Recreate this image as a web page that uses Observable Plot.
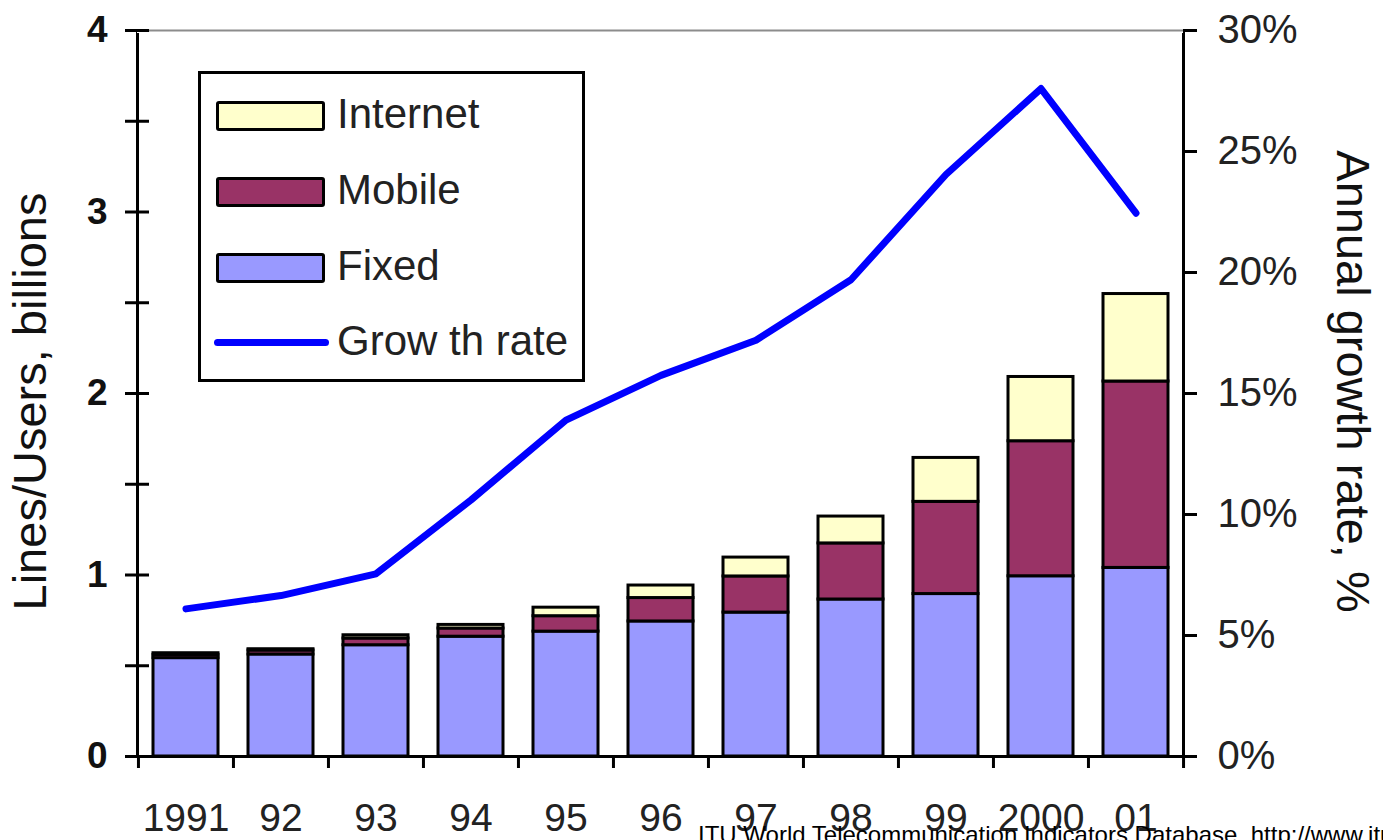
<!DOCTYPE html>
<html><head><meta charset="utf-8">
<script src="https://cdn.jsdelivr.net/npm/d3@7"></script>
<script src="https://cdn.jsdelivr.net/npm/@observablehq/plot@0.6"></script>
<style>
html,body{margin:0;padding:0;background:#fff;overflow:hidden;width:1383px;height:840px;}
#wrap{position:relative;width:1383px;height:840px;overflow:hidden;font-family:"Liberation Sans",Arial,sans-serif;}
#legend{position:absolute;left:198px;top:71px;width:387px;height:311px;border:3px solid #000;box-sizing:border-box;background:#fff;}
.item{position:absolute;left:0;height:0;}
.sw{position:absolute;left:15px;width:109px;height:30px;border:3px solid #000;box-sizing:border-box;border-radius:3px;}
.ln{position:absolute;left:13px;width:115px;height:7px;border-radius:4px;background:#0000ff;}
.lt{position:absolute;left:136px;font-size:42px;line-height:42px;color:#222;white-space:nowrap;}
#caption{position:absolute;left:698px;top:823px;font-size:24px;line-height:24px;color:#000;white-space:nowrap;}
</style></head>
<body><div id="wrap"></div>
<script>
// ---- data ----
const years = ["1991","92","93","94","95","96","97","98","99","2000","01"];
const fixed    = [0.542, 0.562, 0.613, 0.660, 0.688, 0.744, 0.793, 0.865, 0.895, 0.993, 1.039];
const mobile   = [0.018, 0.022, 0.037, 0.045, 0.085, 0.129, 0.199, 0.309, 0.508, 0.744, 1.027];
const internet = [0.009, 0.007, 0.018, 0.020, 0.047, 0.069, 0.104, 0.148, 0.242, 0.354, 0.482];
const growth   = [6.1, 6.65, 7.55, 10.6, 13.9, 15.75, 17.2, 19.7, 24.05, 27.6, 22.45];
const seriesNames  = ["Fixed", "Mobile", "Internet"];
const seriesColors = ["#9999ff", "#993366", "#ffffcc"];
const legendNames  = ["Internet", "Mobile", "Fixed", "Grow th rate"];
const leftTicks  = [0, 1, 2, 3, 4];
const leftMinor  = [0, 0.5, 1, 1.5, 2, 2.5, 3, 3.5, 4];
const rightTicks = [0, 5, 10, 15, 20, 25, 30];
const leftTitle  = "Lines/Users, billions";
const rightTitle = "Annual growth rate, %";
const caption    = "ITU World Telecommunication Indicators Database, http://www.itu.int/ti/";

// ---- build tables ----
const seriesValues = {Fixed: fixed, Mobile: mobile, Internet: internet};
const rows = [];
years.forEach((y, i) => seriesNames.forEach(s => rows.push({year: y, series: s, value: seriesValues[s][i]})));
const growthRows = years.map((y, i) => ({year: y, rate: growth[i]}));

const W = 1383, H = 840, mL = 137, mR = 200, mT = 30, mB = 84;
const yMax = 4, rMax = 30;
const toY = r => r * yMax / rMax;
const step = (W - mL - mR) / years.length;
const font = "Liberation Sans, Arial, sans-serif";

const chart = Plot.plot({
  width: W, height: H,
  marginLeft: mL, marginRight: mR, marginTop: mT, marginBottom: mB,
  style: {fontFamily: font, background: "white", overflow: "visible"},
  x: {domain: years, paddingInner: 0.32, paddingOuter: 0.16, axis: null},
  y: {domain: [0, yMax], axis: null},
  color: {domain: seriesNames, range: seriesColors},
  marks: [
    Plot.barY(rows, {x: "year", y: "value", fill: "series", order: seriesNames, stroke: "black", strokeWidth: 3}),
    Plot.frame({stroke: "black", strokeWidth: 3}),
    Plot.ruleY([yMax], {stroke: "white", strokeWidth: 5}),
    Plot.ruleY([yMax], {stroke: "#8c8c8c", strokeWidth: 2}),
    Plot.line(growthRows, {x: "year", y: d => toY(d.rate), stroke: "#0000ff", strokeWidth: 7, strokeLinejoin: "round", strokeLinecap: "round"}),
    // left axis
    Plot.axisY({anchor: "left", ticks: leftMinor, tickSize: 24, dx: 12, fill: "none", stroke: "black", strokeWidth: 3, label: null}),
    Plot.axisY({anchor: "left", ticks: leftTicks, tickSize: 0, tickPadding: 30, tickFormat: d => String(d), fontSize: 37, fontWeight: "bold", fill: "#111", label: null}),
    // right axis
    Plot.axisY({anchor: "right", ticks: rightTicks.map(toY), tickSize: 13, tickPadding: 21,
      tickFormat: d => Math.round(d * rMax / yMax) + "%", fontSize: 40, fill: "#222", stroke: "black", strokeWidth: 3, label: null}),
    // x axis
    Plot.axisX({anchor: "bottom", tickSize: 0, tickPadding: 47, fontSize: 39, fill: "#222", label: null}),
    Plot.axisX({anchor: "bottom", tickSize: 12, dx: -step / 2, fill: "none", stroke: "black", strokeWidth: 3, label: null}),
    Plot.axisX({anchor: "bottom", ticks: [years[years.length - 1]], tickSize: 12, dx: step / 2, fill: "none", stroke: "black", strokeWidth: 3, label: null}),
    // axis titles
    Plot.text([leftTitle], {text: d => d, frameAnchor: "left", textAnchor: "middle", dx: -107, dy: 8, rotate: -90, fontSize: 47, fill: "#111"}),
    Plot.text([rightTitle], {text: d => d, frameAnchor: "right", textAnchor: "middle", dx: 169, dy: -12, rotate: 90, fontSize: 47, fill: "#111"})
  ]
});

const wrap = document.getElementById("wrap");
wrap.appendChild(chart);

// ---- legend ----
const legend = document.createElement("div");
legend.id = "legend";
const centers = [42, 118, 194, 269];
legendNames.forEach((name, i) => {
  const it = document.createElement("div");
  it.className = "item";
  it.style.top = centers[i] + "px";
  const sw = document.createElement("div");
  if (i < 3) {
    sw.className = "sw";
    sw.style.top = "-15px";
    sw.style.background = seriesColors[seriesNames.indexOf(name)];
  } else {
    sw.className = "ln";
    sw.style.top = "-4px";
  }
  const t = document.createElement("div");
  t.className = "lt";
  t.style.top = "-23px";
  t.textContent = name;
  it.appendChild(sw); it.appendChild(t);
  legend.appendChild(it);
});
wrap.appendChild(legend);

const cap = document.createElement("div");
cap.id = "caption";
cap.textContent = caption;
wrap.appendChild(cap);
</script>
</body></html>
